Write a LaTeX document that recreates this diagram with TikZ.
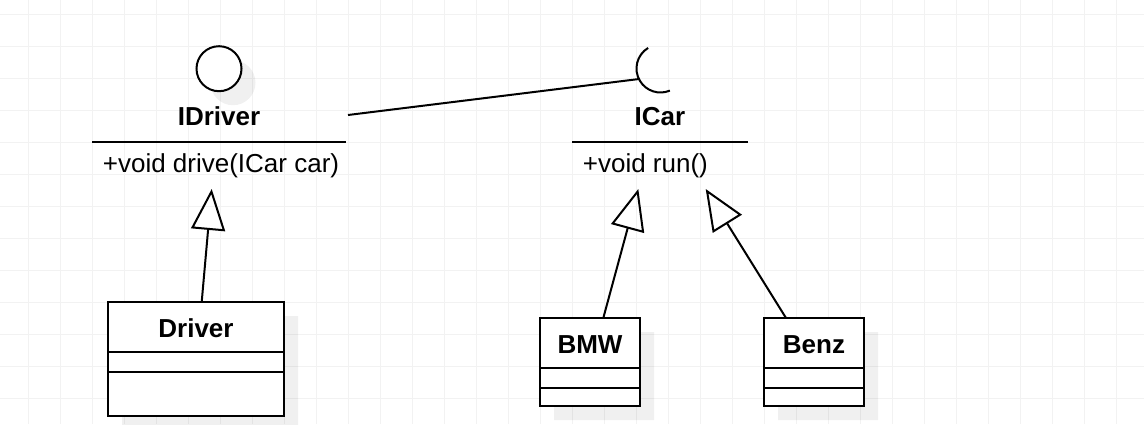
\documentclass[tikz,border=0pt]{standalone}
\usepackage{fontspec}
\setmainfont{Liberation Sans}
\usetikzlibrary{arrows.meta,shapes.multipart,shadows}

\begin{document}
\begin{tikzpicture}[x=0.5pt, y=-0.5pt,
  gridline/.style={draw=black!5, line width=0.5pt},
  soft/.style={drop shadow={shadow xshift=7pt, shadow yshift=-7pt, fill=black, opacity=0.06}},
  umlclass/.style={rectangle split, rectangle split parts=3, draw, line width=1pt, fill=white, soft,
    minimum width=#1, inner xsep=0pt, inner ysep=0pt, outer sep=0pt, font=\fontsize{13pt}{15pt}\selectfont\bfseries},
  iface/.style={minimum width=#1, minimum height=47.5pt, inner sep=0pt, outer sep=0pt},
  iname/.style={inner sep=0pt, font=\fontsize{13pt}{15pt}\selectfont\bfseries},
  imeth/.style={anchor=west, inner sep=0pt, font=\fontsize{13pt}{15pt}\selectfont},
  ball/.style={circle, draw, line width=1pt, fill=white, soft, minimum size=22.5pt, inner sep=0pt},
  socket/.style={circle, minimum size=24pt, inner sep=0pt, outer sep=0pt},
  impl/.style={line width=1pt, -{Triangle[open, length=20.5pt, width=17pt]}},
  sep/.style={line width=1pt}]

 \fill[white] (0,0) rectangle (1144,424);
 \useasboundingbox (0,0) rectangle (1144,424);
 \foreach \gx in {28,60,...,1116} \draw[gridline] (\gx,0) -- (\gx,424);
 \foreach \gy in {14,46,...,398} \draw[gridline] (0,\gy) -- (1144,\gy);

 \node[iface=127pt] (idriver) at (219,141.5) {};
 \node[ball] (idriverball) at (219,68.7) {};
 \node[iname] (idrivername) at (219,116.7) {IDriver};
 \node[imeth] (drive) at (102.5,165.3) {+void drive(ICar car)};
 \draw[sep] (idriver.west) -- (idriver.east);

 \node[iface=88pt] (icar) at (660,141.5) {};
 \node[socket] (icarsock) at (660.5,68.5) {};
 \node[iname] (icarname) at (660,116.7) {ICar};
 \node[imeth] (run) at (582.5,165.3) {+void run()};
 \draw[sep] (icar.west) -- (icar.east);
 \draw[sep] (icarsock.121) arc[start angle=121, end angle=293, radius=12pt];

 \node[umlclass=88pt, anchor=north] (driver) at (196,302)
  {\rule[-7pt]{0pt}{24pt}Driver\nodepart{two}\rule{0pt}{9pt}\nodepart{three}\rule{0pt}{21pt}};
 \node[umlclass=50pt, anchor=north] (bmw) at (590,318)
  {\rule[-7pt]{0pt}{24pt}BMW\nodepart{two}\rule{0pt}{9pt}\nodepart{three}\rule{0pt}{8pt}};
 \node[umlclass=50pt, anchor=north] (benz) at (814,318)
  {\rule[-7pt]{0pt}{24pt}Benz\nodepart{two}\rule{0pt}{9pt}\nodepart{three}\rule{0pt}{8pt}};

 \draw[sep] ([shift={(1pt,13.25pt)}]idriver.east) -- (icarsock.206);
 \draw[impl] ([xshift=2.85pt]driver.north) -- ([xshift=-3.65pt]idriver.south);
 \draw[impl] ([xshift=6.65pt]bmw.north) -- ([xshift=-10.85pt]icar.south);
 \draw[impl] ([xshift=-14pt]benz.north) -- ([xshift=22.85pt]icar.south);
\end{tikzpicture}
\end{document}
